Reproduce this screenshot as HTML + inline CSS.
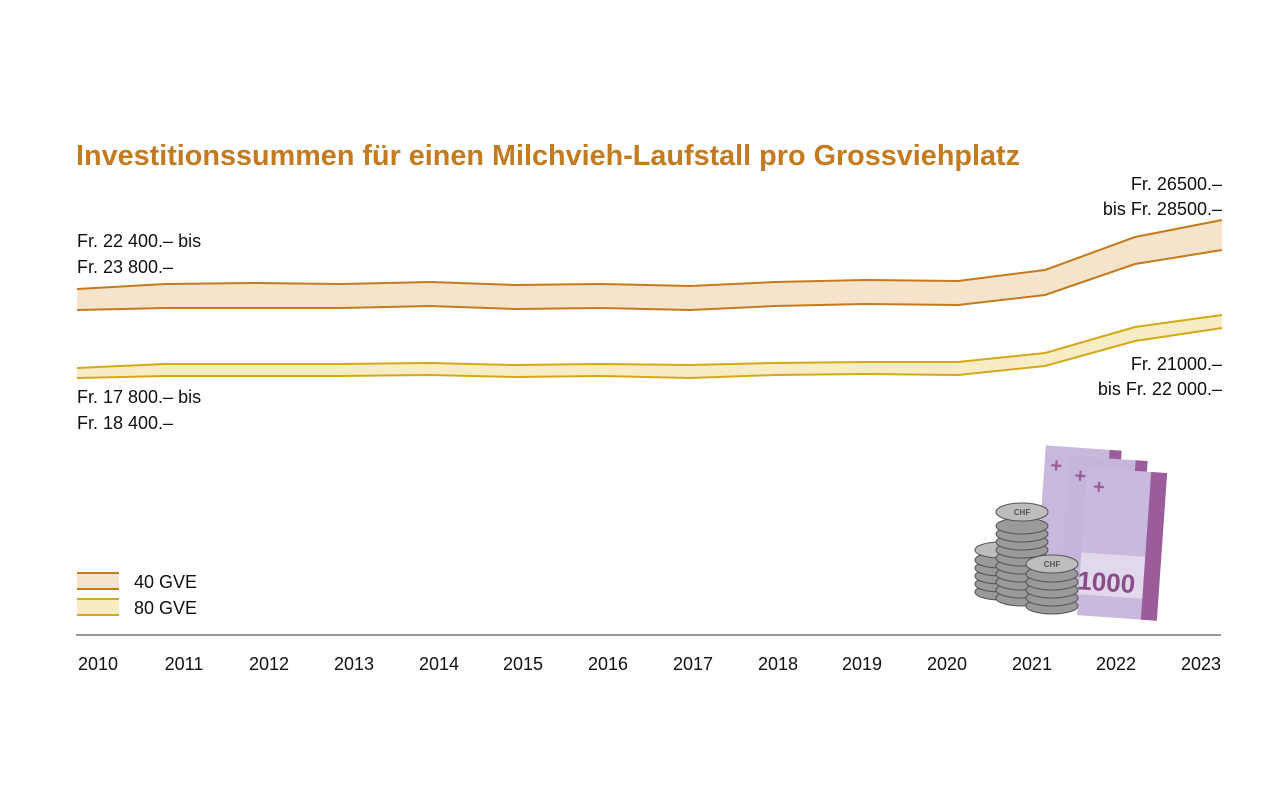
<!DOCTYPE html>
<html><head><meta charset="utf-8"><style>
body{margin:0;background:#fff;}
svg{display:block;font-family:"Liberation Sans",sans-serif;}
</style></head><body>
<svg width="1280" height="799" viewBox="0 0 1280 799">
<text x="76" y="165" font-size="29" font-weight="bold" fill="#c47a1e" textLength="944" lengthAdjust="spacingAndGlyphs">Investitionssummen für einen Milchvieh-Laufstall pro Grossviehplatz</text>
<polygon fill="#f5e3cc" points="77,289 165,284 255,283 340,284 430,282 515,285 600,284 690,286 775,282 865,280 958,281 1045,270 1135,237 1222,220 1222,250 1135,264 1045,295 958,305 865,304 775,306 690,310 600,308 515,309 430,306 340,308 255,308 165,308 77,310"/>
<polyline fill="none" stroke="#c47a1e" stroke-width="2" points="77,289 165,284 255,283 340,284 430,282 515,285 600,284 690,286 775,282 865,280 958,281 1045,270 1135,237 1222,220"/>
<polyline fill="none" stroke="#c47a1e" stroke-width="2" points="77,310 165,308 255,308 340,308 430,306 515,309 600,308 690,310 775,306 865,304 958,305 1045,295 1135,264 1222,250"/>
<polygon fill="#f8ecc4" points="77,368 165,364 255,364 340,364 430,363 515,365 600,364 690,365 775,363 865,362 958,362 1045,353 1135,327 1222,315 1222,328 1135,341 1045,366 958,375 865,374 775,375 690,378 600,376 515,377 430,375 340,376 255,376 165,376 77,378"/>
<polyline fill="none" stroke="#d4a919" stroke-width="2" points="77,368 165,364 255,364 340,364 430,363 515,365 600,364 690,365 775,363 865,362 958,362 1045,353 1135,327 1222,315"/>
<polyline fill="none" stroke="#d4a919" stroke-width="2" points="77,378 165,376 255,376 340,376 430,375 515,377 600,376 690,378 775,375 865,374 958,375 1045,366 1135,341 1222,328"/>
<g font-size="18" fill="#111">
<text x="77" y="247">Fr. 22 400.– bis</text>
<text x="77" y="273">Fr. 23 800.–</text>
<text x="1222" y="190" text-anchor="end">Fr. 26500.–</text>
<text x="1222" y="215" text-anchor="end">bis Fr. 28500.–</text>
<text x="77" y="403">Fr. 17 800.– bis</text>
<text x="77" y="429">Fr. 18 400.–</text>
<text x="1222" y="370" text-anchor="end">Fr. 21000.–</text>
<text x="1222" y="395" text-anchor="end">bis Fr. 22 000.–</text>
<text x="134" y="588">40 GVE</text>
<text x="134" y="614">80 GVE</text>
</g>
<rect x="77" y="573" width="42" height="16" fill="#f5e3cc"/>
<line x1="77" y1="573" x2="119" y2="573" stroke="#c47a1e" stroke-width="2"/>
<line x1="77" y1="589" x2="119" y2="589" stroke="#c47a1e" stroke-width="2"/>
<rect x="77" y="599" width="42" height="16" fill="#f8ecc4"/>
<line x1="77" y1="599" x2="119" y2="599" stroke="#d4a919" stroke-width="2"/>
<line x1="77" y1="615" x2="119" y2="615" stroke="#d4a919" stroke-width="2"/>
<line x1="76" y1="635" x2="1221" y2="635" stroke="#333" stroke-width="1"/>
<g font-size="18" fill="#111" text-anchor="middle">
<text x="98" y="670">2010</text><text x="184" y="670">2011</text><text x="269" y="670">2012</text><text x="354" y="670">2013</text><text x="439" y="670">2014</text><text x="523" y="670">2015</text><text x="608" y="670">2016</text><text x="693" y="670">2017</text><text x="778" y="670">2018</text><text x="862" y="670">2019</text><text x="947" y="670">2020</text><text x="1032" y="670">2021</text><text x="1116" y="670">2022</text><text x="1201" y="670">2023</text>
</g>
<g transform="rotate(4 1080 530)">
<rect x="1040" y="448" width="76" height="150" fill="#c8b8dc"/><rect x="1104" y="448" width="12" height="150" fill="#9a5c9a"/>
<text x="1046" y="474" font-size="20" font-weight="bold" fill="#9a5c9a">+</text>
</g>
<g transform="rotate(4 1100 540)">
<rect x="1064" y="458" width="78" height="150" fill="#c5b5da"/><rect x="1130" y="458" width="12" height="150" fill="#9a5c9a"/>
<text x="1070" y="484" font-size="20" font-weight="bold" fill="#9a5c9a">+</text>
</g>
<g transform="rotate(4 1120 545)">
<rect x="1082" y="470" width="80" height="148" fill="#c9b9de"/>
<rect x="1082" y="555" width="80" height="42" fill="#e2d8ec"/>
<rect x="1146" y="470" width="16" height="148" fill="#9a5c9a"/>
<text x="1089" y="495" font-size="20" font-weight="bold" fill="#9a5c9a">+</text>
<text x="1080" y="592" font-size="26" font-weight="bold" fill="#8a4c8a">1000</text>
</g>
<g fill="#9a9a9a" stroke="#555" stroke-width="1">
<ellipse cx="1000" cy="592" rx="25" ry="8"/><ellipse cx="1000" cy="584" rx="25" ry="8"/><ellipse cx="1000" cy="576" rx="25" ry="8"/><ellipse cx="1000" cy="568" rx="25" ry="8"/><ellipse cx="1000" cy="560" rx="25" ry="8"/><ellipse cx="1000" cy="550" rx="25" ry="8" fill="#bdbdbd"/>
<ellipse cx="1022" cy="598" rx="26" ry="8"/><ellipse cx="1022" cy="590" rx="26" ry="8"/><ellipse cx="1022" cy="582" rx="26" ry="8"/><ellipse cx="1022" cy="574" rx="26" ry="8"/><ellipse cx="1022" cy="566" rx="26" ry="8"/><ellipse cx="1022" cy="558" rx="26" ry="8"/><ellipse cx="1022" cy="550" rx="26" ry="8"/><ellipse cx="1022" cy="542" rx="26" ry="8"/><ellipse cx="1022" cy="534" rx="26" ry="8"/><ellipse cx="1022" cy="526" rx="26" ry="8"/><ellipse cx="1022" cy="512" rx="26" ry="9" fill="#bdbdbd"/>
<ellipse cx="1052" cy="606" rx="26" ry="8"/><ellipse cx="1052" cy="598" rx="26" ry="8"/><ellipse cx="1052" cy="590" rx="26" ry="8"/><ellipse cx="1052" cy="582" rx="26" ry="8"/><ellipse cx="1052" cy="574" rx="26" ry="8"/><ellipse cx="1052" cy="564" rx="26" ry="9" fill="#bdbdbd"/>
</g>
<g font-size="8" font-weight="bold" fill="#555" text-anchor="middle">
<text x="1022" y="515">CHF</text><text x="1052" y="567">CHF</text>
</g>
</svg>
</body></html>
